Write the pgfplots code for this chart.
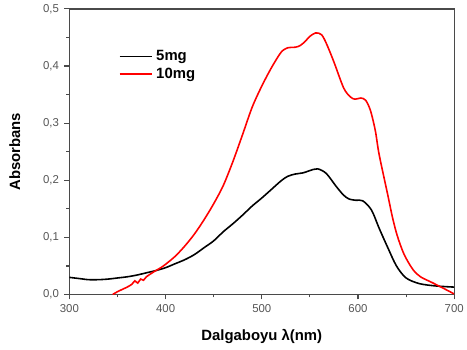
\documentclass[border=0pt]{standalone}
\usepackage{pgfplots}
\pgfplotsset{compat=1.18}
\usepackage{fontspec}
\setmainfont{Liberation Sans}

\definecolor{axisgray}{HTML}{4A4A4A}
\definecolor{ticktext}{HTML}{555555}

% Absorbance spectra, wavelength in nm
\pgfplotstableread{
x y
300 0.030
310 0.028
320 0.026
330 0.026
340 0.027
350 0.029
360 0.031
370 0.034
380 0.038
390 0.042
400 0.047
410 0.054
420 0.061
430 0.070
440 0.082
450 0.094
460 0.110
470 0.124
480 0.139
490 0.155
500 0.169
510 0.184
520 0.199
527 0.207
535 0.211
543 0.213
550 0.217
558 0.220
567 0.212
577 0.190
585 0.174
591 0.167
598 0.165
605 0.164
614 0.148
622 0.116
631 0.082
640 0.050
650 0.029
664 0.019
681 0.015
700 0.013
}\fivemg

\pgfplotstableread{
x y
345 0.000
350 0.005
360 0.013
365 0.018
368 0.024
371 0.020
374 0.027
377 0.025
380 0.031
388 0.040
395 0.047
400 0.053
410 0.067
420 0.085
430 0.106
440 0.131
450 0.159
460 0.191
470 0.233
480 0.280
490 0.328
500 0.365
510 0.397
520 0.424
527 0.432
535 0.433
540 0.436
545 0.443
550 0.452
556 0.458
562 0.455
567 0.440
575 0.407
585 0.362
592 0.346
597 0.342
603 0.344
608 0.340
613 0.322
618 0.287
622 0.245
631 0.174
636 0.134
641 0.102
648 0.070
657 0.044
665 0.031
677 0.021
691 0.009
700 0.001
}\tenmg

\begin{document}
\begin{tikzpicture}
\begin{axis}[
  at={(0,0)}, anchor=south west,
  scale only axis, width=388pt, height=288pt,
  xmin=300, xmax=700, ymin=0, ymax=0.5,
  xtick={300,400,500,600,700},
  xticklabels={300,400,500,600,700},
  ytick={0,0.1,0.2,0.3,0.4,0.5},
  yticklabels={{0,0},{0,1},{0,2},{0,3},{0,4},{0,5}},
  minor xtick={350,450,550,650},
  minor ytick={0.05,0.15,0.25,0.35,0.45},
  tick pos=left, tick align=outside,
  major tick length=5pt, minor tick length=3pt,
  axis line style={axisgray, line width=1.2pt},
  every tick/.style={axisgray, line width=1.1pt},
  tick label style={font=\fontsize{11.5}{13}\selectfont, text=ticktext},
  xticklabel style={yshift=-2pt},
  yticklabel style={xshift=-2pt},
  every axis x label/.style={at={(axis description cs:0.5,0)}, yshift=-42pt, anchor=center},
  every axis y label/.style={at={(axis description cs:0,0.5)}, xshift=-55pt, rotate=90, anchor=center},
  label style={font=\bfseries\fontsize{15}{16}\selectfont},
  xlabel={Dalgaboyu λ(nm)},
  ylabel={Absorbans},
  legend style={draw=none, fill=none, at={(axis description cs:0.12,0.865)}, anchor=north west,
    font=\bfseries\fontsize{15}{16}\selectfont, row sep=4pt,
    nodes={inner xsep=3pt, inner ysep=1pt}},
  legend cell align=left,
  legend image code/.code={\draw[#1, line width=1.8pt] (0pt,0pt) -- (33pt,0pt);},
]
\addplot[black, line width=1.6pt, smooth] table[x=x, y=y] {\fivemg};
\addlegendentry{5mg}
\addplot[red, line width=1.6pt, smooth] table[x=x, y=y] {\tenmg};
\addlegendentry{10mg}
\end{axis}
\path[use as bounding box] (-70pt,-55pt) rectangle (397pt,297pt);
\end{tikzpicture}
\end{document}
